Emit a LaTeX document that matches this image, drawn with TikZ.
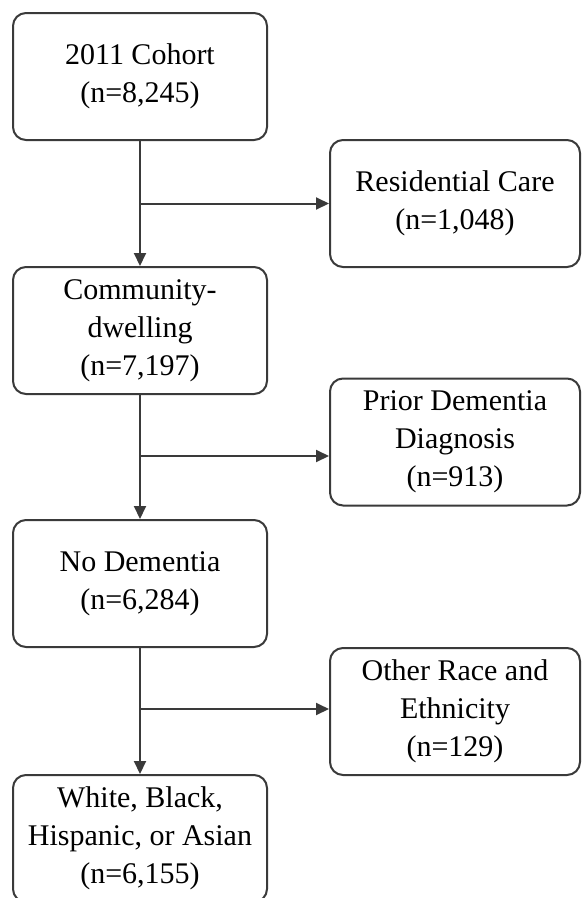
\documentclass[tikz,border=0pt]{standalone}
\usepackage{fontspec}
\setmainfont{Liberation Serif}
\usetikzlibrary{arrows.meta,calc}
\definecolor{linec}{HTML}{3A3A3A}
\tikzset{
  box/.style={draw=linec, line width=2pt, rounded corners=13pt, fill=white,
    minimum height=127pt, align=center, inner sep=0pt,
    font=\fontsize{30}{38}\selectfont},
  leftbox/.style={box, minimum width=254pt},
  rightbox/.style={box, minimum width=250pt},
  conn/.style={draw=linec, line width=2pt, -{Triangle[length=13pt,width=12pt]}},
  plain/.style={draw=linec, line width=2pt}
}
\begin{document}
\begin{tikzpicture}[x=1pt,y=-1pt]
\clip (0,0) rectangle (582,898);
\fill[white] (0,0) rectangle (582,898);
\node[leftbox] (b1) at (140,76.5) {2011 Cohort\\(n=8,245)};
\node[leftbox] (b2) at (140,330.5) {Community-\\dwelling\\(n=7,197)};
\node[leftbox] (b3) at (140,583.5) {No Dementia\\(n=6,284)};
\node[leftbox] (b4) at (140,838.5) {White, Black,\\Hispanic, or Asian\\(n=6,155)};
\node[rightbox] (r1) at (455,203.5) {Residential Care\\(n=1,048)};
\node[rightbox] (r2) at (455,442) {Prior Dementia\\Diagnosis\\(n=913)};
\node[rightbox] (r3) at (455,711.5) {Other Race and\\Ethnicity\\(n=129)};
\coordinate (j1) at (140,203.5);
\coordinate (j2) at (140,456);
\coordinate (j3) at (140,709);
\draw[conn] (b1.south) -- (b2.north);
\draw[conn] (b2.south) -- (b3.north);
\draw[conn] (b3.south) -- (b4.north);
\draw[conn] (j1) -- (j1 -| r1.west);
\draw[conn] (j2) -- (j2 -| r2.west);
\draw[conn] (j3) -- (j3 -| r3.west);
\end{tikzpicture}
\end{document}
